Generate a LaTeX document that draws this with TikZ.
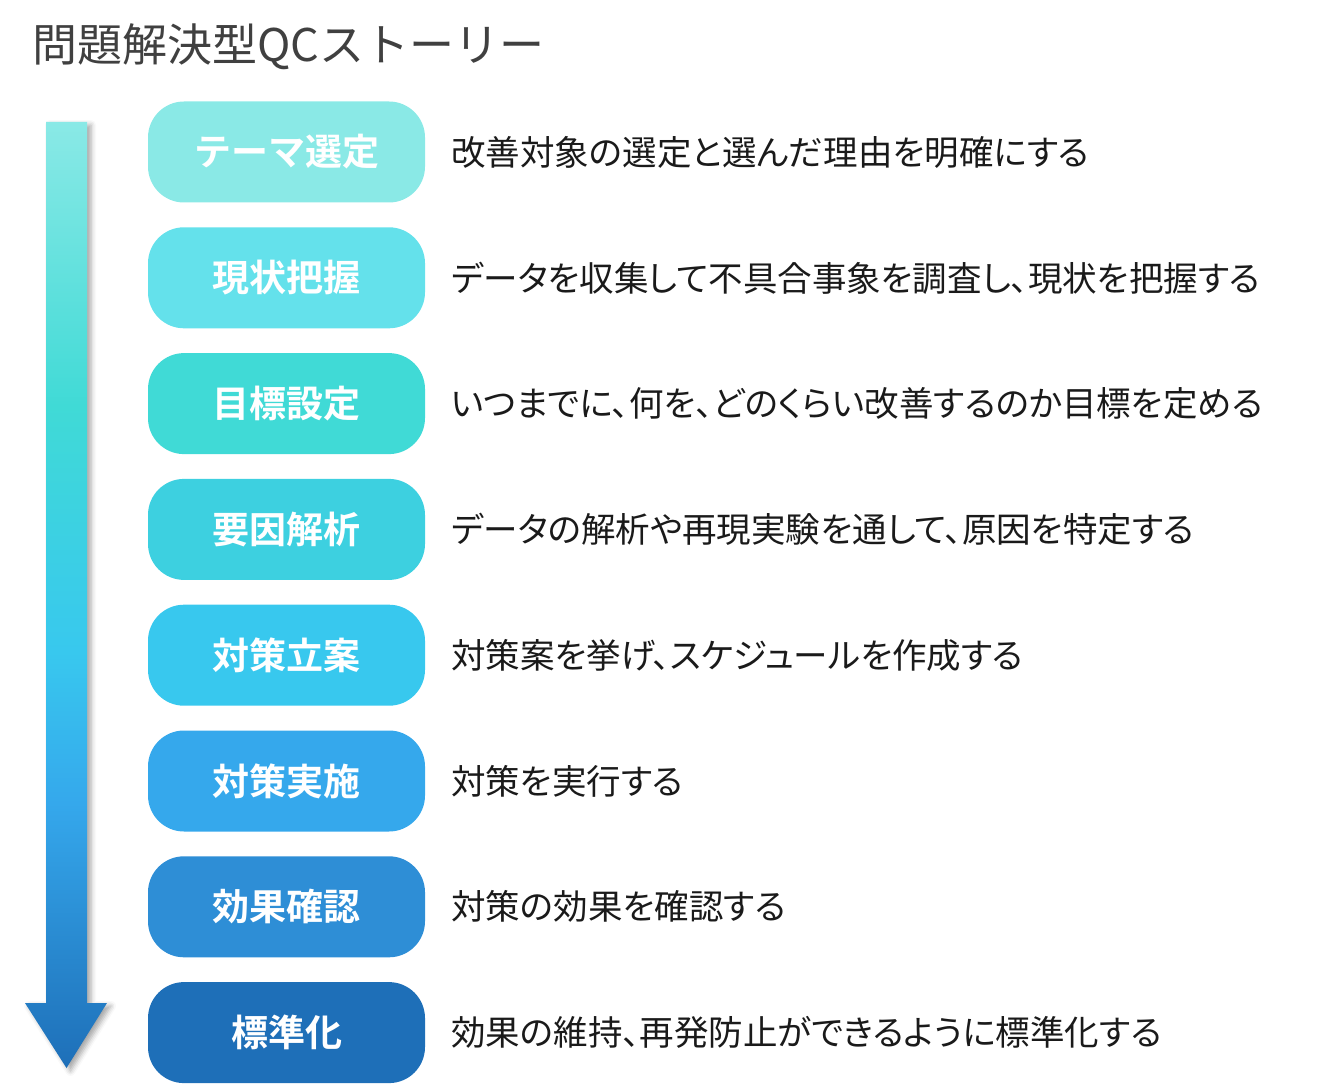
\documentclass[tikz,border=0pt]{standalone}
\usepackage{fontspec}
\newfontfamily\jp[BoldFont={* Bold}]{Noto Sans CJK JP}
\newfontfamily\jpp[RawFeature=+palt]{Noto Sans CJK JP}
\usetikzlibrary{shadows.blur}
\definecolor{titlegray}{HTML}{404040}
\definecolor{descblack}{HTML}{1A1A1A}
\definecolor{b1}{HTML}{8AE9E6}
\definecolor{b2}{HTML}{64E1EB}
\definecolor{b3}{HTML}{40DAD6}
\definecolor{b4}{HTML}{3DD0E0}
\definecolor{b5}{HTML}{38C8EE}
\definecolor{b6}{HTML}{35A8EC}
\definecolor{b7}{HTML}{2E8ED6}
\definecolor{b8}{HTML}{1E6FB8}
\pgfdeclareverticalshading{flowshade}{100bp}{color(0bp)=(b8); color(25bp)=(b8);
    color(39bp)=(b6); color(47bp)=(b5); color(60bp)=(b3); color(75bp)=(b1); color(100bp)=(b1)}
\tikzset{
    stepbox/.style = {rounded corners=36pt, inner sep=0pt,
        minimum height=101pt,
        minimum width=277pt, align=center, text=white,
        font=\jp\bfseries\fontsize{37}{40}\selectfont},
    desc/.style = {anchor=west, inner sep=0pt, text=descblack,
        font=\jpp\fontsize{34.5}{37}\selectfont},
    heading/.style = {anchor=west, inner sep=0pt, text=titlegray,
        font=\jp\fontsize{45}{48}\selectfont}
}
\begin{document}
\begin{tikzpicture}[x=1pt,y=-1pt]
        \useasboundingbox (0,0) rectangle (1335,1091);
        \node [heading] (title) at (32,47) {問題解決型QCストーリー};
        \path [shade, shading=flowshade,
            blur shadow={shadow xshift=4pt, shadow yshift=-3pt, shadow blur radius=5pt, shadow opacity=35}]
            (46,122) -- (87,122) -- (87,1003) -- (107,1003) -- (66.5,1068)
            -- (25,1003) -- (46,1003) -- cycle;
        \foreach \lbl/\txt [count=\i] in {
            テーマ選定/改善対象の選定と選んだ理由を明確にする,
            現状把握/データを収集して不具合事象を調査し、現状を把握する,
            目標設定/いつまでに、何を、どのくらい改善するのか目標を定める,
            要因解析/データの解析や再現実験を通して、原因を特定する,
            対策立案/対策案を挙げ、スケジュールを作成する,
            対策実施/対策を実行する,
            効果確認/対策の効果を確認する,
            標準化/効果の維持、再発防止ができるように標準化する}
        {
            \node [stepbox, fill=b\i] (s\i) at (286.5,{152+(\i-1)*125.8}) {\lbl};
            \node [desc] (d\i) at ([xshift=26pt]s\i.east) {\txt};
        }
    \end{tikzpicture}
\end{document}
